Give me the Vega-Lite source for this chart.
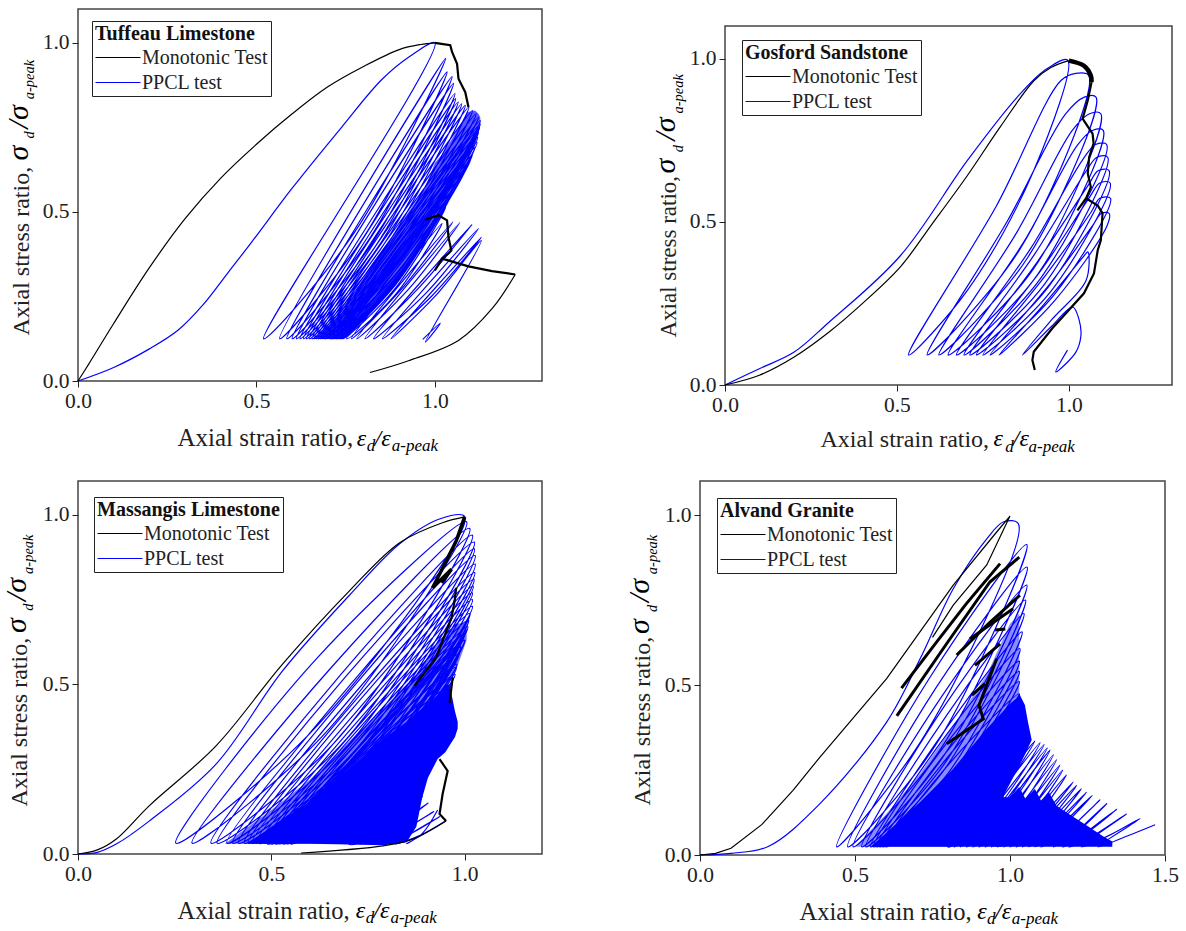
{"$schema":"https://vega.github.io/schema/vega-lite/v6.json","background":"white","padding":{"left":1,"top":8,"right":0,"bottom":0},"spacing":24,
"resolve":{"scale":{"color":"independent"},"legend":{"color":"independent"}},
"config":{"view":{"stroke":"#444","strokeWidth":1.5,"fill":"white"},
"axis":{"grid":false,"domain":false,"tickSize":6,"tickColor":"#222","labelFont":"Liberation Serif","labelFontSize":21.5,"labelColor":"#222","labelPadding":3,"labelFlush":false,"labelOverlap":false,"titleFont":"Liberation Serif","titleFontSize":24.5,"titleFontWeight":"normal","titleColor":"#222","titleAlign":"left","titleBaseline":"alphabetic","format":".1f"},
"axisY":{"titleAngle":270},
"legend":{"orient":"none","symbolType":"M-1,0H3.5","symbolSize":400,"symbolStrokeWidth":1,"strokeColor":"#222","fillColor":"white","padding":3,"titleFont":"Liberation Serif","titleFontSize":20,"titleFontWeight":"bold","titleColor":"#111","titlePadding":3,"titleLimit":400,"labelFont":"Liberation Serif","labelFontSize":20,"labelColor":"#222","labelLimit":300,"rowPadding":4,"labelOffset":26},
"style":{"eb":{"font":"Liberation Serif","fontStyle":"italic","fontSize":24,"align":"left","baseline":"alphabetic","fill":"#222"},"es":{"font":"Liberation Serif","fontStyle":"italic","fontSize":17,"align":"left","baseline":"alphabetic","fill":"#222"},"sb":{"font":"Liberation Serif","fontStyle":"italic","fontSize":30,"align":"left","baseline":"alphabetic","fill":"#222","angle":270},"ss":{"font":"Liberation Serif","fontStyle":"italic","fontSize":14.5,"align":"left","baseline":"alphabetic","fill":"#222","angle":270}}},
"datasets":{
"p1a":[{"x":0.66,"y":0.125,"z":0.125},{"x":0.739,"y":0.2,"z":0.125},{"x":0.757,"y":0.225,"z":0.13},{"x":0.82,"y":0.34,"z":0.2},{"x":0.879,"y":0.425,"z":0.278},{"x":0.926,"y":0.5,"z":0.35},{"x":0.972,"y":0.57,"z":0.425},{"x":1,"y":0.645,"z":0.47},{"x":1.02,"y":0.67,"z":0.505},{"x":1.056,"y":0.73,"z":0.573},{"x":1.09,"y":0.795,"z":0.647},{"x":1.112,"y":0.8,"z":0.7},{"x":1.122,"y":0.79,"z":0.732},{"x":1.127,"y":0.78,"z":0.76}],
"p1m":[{"x":0,"y":0,"k":1},{"x":0.03,"y":0.05,"k":1},{"x":0.1,"y":0.17,"k":1},{"x":0.2,"y":0.335,"k":1},{"x":0.3,"y":0.48,"k":1},{"x":0.4,"y":0.6,"k":1},{"x":0.5,"y":0.7,"k":1},{"x":0.6,"y":0.79,"k":1},{"x":0.7,"y":0.87,"k":1},{"x":0.8,"y":0.93,"k":1},{"x":0.9,"y":0.98,"k":1},{"x":0.96,"y":0.995,"k":1},{"x":1,"y":1,"k":1},{"x":1.225,"y":0.315,"k":2},{"x":1.16,"y":0.214,"k":2},{"x":1.066,"y":0.12,"k":2},{"x":0.926,"y":0.06,"k":2},{"x":0.818,"y":0.025,"k":2}],
"p1t":[{"x":1,"y":1,"k":1},{"x":1.043,"y":0.993,"k":1},{"x":1.048,"y":0.973,"k":1},{"x":1.062,"y":0.938,"k":1},{"x":1.066,"y":0.894,"k":1},{"x":1.085,"y":0.854,"k":1},{"x":1.094,"y":0.81,"k":1},{"x":0.972,"y":0.477,"k":2},{"x":1.01,"y":0.49,"k":2},{"x":1.034,"y":0.475,"k":2},{"x":1.038,"y":0.425,"k":2},{"x":1.046,"y":0.386,"k":2},{"x":1.038,"y":0.377,"k":2},{"x":1.02,"y":0.362,"k":2},{"x":1.0,"y":0.327,"k":2},{"x":1.02,"y":0.362,"k":2},{"x":1.094,"y":0.339,"k":2},{"x":1.16,"y":0.325,"k":2},{"x":1.225,"y":0.315,"k":2}],
"p1p":[{"x":0,"y":0},{"x":0.1,"y":0.04},{"x":0.2,"y":0.095},{"x":0.28,"y":0.15},{"x":0.35,"y":0.225},{"x":0.42,"y":0.32},{"x":0.486,"y":0.41},{"x":0.6,"y":0.57},{"x":0.739,"y":0.751},{"x":0.85,"y":0.89},{"x":0.93,"y":0.96},{"x":1,"y":1},{"x":0.52,"y":0.125},{"x":0.775,"y":0.44},{"x":1.03,"y":0.954},{"x":0.565,"y":0.125},{"x":0.8,"y":0.425},{"x":1.034,"y":0.914},{"x":0.585,"y":0.125},{"x":0.816,"y":0.42},{"x":1.048,"y":0.9},{"x":0.6,"y":0.125},{"x":0.826,"y":0.41},{"x":1.052,"y":0.88},{"x":0.612,"y":0.125},{"x":0.834,"y":0.4},{"x":1.056,"y":0.85},{"x":0.622,"y":0.125},{"x":0.84,"y":0.395},{"x":1.058,"y":0.835},{"x":0.632,"y":0.125},{"x":0.848,"y":0.39},{"x":1.065,"y":0.825},{"x":0.64,"y":0.125},{"x":0.858,"y":0.39},{"x":1.075,"y":0.82},{"x":0.648,"y":0.125},{"x":0.866,"y":0.385},{"x":1.085,"y":0.815},{"x":0.656,"y":0.125},{"x":0.875,"y":0.385},{"x":1.095,"y":0.81},{"x":0.662,"y":0.125},{"x":0.884,"y":0.38},{"x":1.105,"y":0.8},{"x":0.668,"y":0.125},{"x":0.892,"y":0.38},{"x":1.115,"y":0.79},{"x":0.674,"y":0.125},{"x":0.898,"y":0.378},{"x":1.122,"y":0.78},{"x":0.68,"y":0.125},{"x":0.904,"y":0.37},{"x":1.127,"y":0.77},{"x":0.685,"y":0.125},{"x":0.906,"y":0.37},{"x":1.127,"y":0.76},{"x":0.69,"y":0.125},{"x":0.908,"y":0.365},{"x":1.125,"y":0.75},{"x":0.695,"y":0.125},{"x":0.908,"y":0.36},{"x":1.122,"y":0.735},{"x":0.7,"y":0.125},{"x":0.91,"y":0.355},{"x":1.12,"y":0.72},{"x":0.705,"y":0.125},{"x":0.912,"y":0.345},{"x":1.118,"y":0.705},{"x":0.71,"y":0.125},{"x":0.911,"y":0.34},{"x":1.112,"y":0.69},{"x":0.714,"y":0.125},{"x":0.91,"y":0.33},{"x":1.105,"y":0.67},{"x":0.718,"y":0.125},{"x":0.909,"y":0.33},{"x":1.1,"y":0.655},{"x":0.722,"y":0.125},{"x":0.906,"y":0.32},{"x":1.09,"y":0.635},{"x":0.726,"y":0.125},{"x":0.903,"y":0.313},{"x":1.08,"y":0.62},{"x":0.73,"y":0.125},{"x":0.9,"y":0.305},{"x":1.07,"y":0.6},{"x":0.734,"y":0.125},{"x":0.895,"y":0.295},{"x":1.056,"y":0.573},{"x":0.738,"y":0.125},{"x":0.89,"y":0.285},{"x":1.045,"y":0.55},{"x":0.742,"y":0.125},{"x":0.886,"y":0.27},{"x":1.03,"y":0.514},{"x":0.753,"y":0.125},{"x":0.885,"y":0.25},{"x":1.02,"y":0.466},{"x":0.766,"y":0.125},{"x":0.905,"y":0.27},{"x":1.05,"y":0.47},{"x":0.781,"y":0.125},{"x":0.925,"y":0.27},{"x":1.07,"y":0.469},{"x":0.804,"y":0.125},{"x":0.95,"y":0.27},{"x":1.104,"y":0.463},{"x":0.828,"y":0.125},{"x":0.975,"y":0.26},{"x":1.122,"y":0.451},{"x":0.853,"y":0.125},{"x":0.99,"y":0.25},{"x":1.13,"y":0.425},{"x":0.877,"y":0.125},{"x":1.0,"y":0.25},{"x":1.13,"y":0.415},{"x":0.973,"y":0.115},{"x":1.015,"y":0.171},{"x":0.966,"y":0.123}],
"p2m":[{"x":0,"y":0},{"x":0.1,"y":0.03},{"x":0.2,"y":0.085},{"x":0.3,"y":0.16},{"x":0.4,"y":0.25},{"x":0.51,"y":0.362},{"x":0.6,"y":0.49},{"x":0.705,"y":0.642},{"x":0.8,"y":0.79},{"x":0.899,"y":0.933},{"x":0.948,"y":0.973},{"x":1,"y":0.994}],
"p2t":[{"x":1.066,"y":0.928,"k":1},{"x":1.055,"y":0.872,"k":1},{"x":1.04,"y":0.816,"k":1},{"x":1.05,"y":0.8,"k":1},{"x":1.069,"y":0.77,"k":1},{"x":1.072,"y":0.74,"k":1},{"x":1.059,"y":0.698,"k":1},{"x":1.055,"y":0.648,"k":1},{"x":1.064,"y":0.606,"k":1},{"x":1.05,"y":0.572,"k":1},{"x":1.025,"y":0.535,"k":1},{"x":1.05,"y":0.572,"k":1},{"x":1.084,"y":0.55,"k":1},{"x":1.098,"y":0.526,"k":1},{"x":1.093,"y":0.443,"k":1},{"x":1.084,"y":0.413,"k":1},{"x":1.073,"y":0.342,"k":1},{"x":1.044,"y":0.281,"k":1},{"x":0.952,"y":0.174,"k":1},{"x":0.898,"y":0.102,"k":1},{"x":0.894,"y":0.076,"k":1},{"x":0.901,"y":0.046,"k":1}],
"p2c":[{"x":1,"y":0.994},{"x":1.044,"y":0.978},{"x":1.064,"y":0.948},{"x":1.066,"y":0.928}],
"p2p":[{"x":0,"y":0},{"x":0.1,"y":0.05},{"x":0.2,"y":0.1},{"x":0.3,"y":0.19},{"x":0.51,"y":0.396},{"x":0.705,"y":0.688},{"x":0.85,"y":0.882},{"x":0.928,"y":0.963},{"x":0.996,"y":0.996},{"x":0.898,"y":0.657},{"x":0.705,"y":0.29},{"x":0.534,"y":0.092},{"x":0.79,"y":0.55},{"x":0.977,"y":0.933},{"x":1.02,"y":0.955},{"x":1.058,"y":0.948},{"x":0.86,"y":0.42},{"x":0.588,"y":0.092},{"x":0.82,"y":0.5},{"x":0.99,"y":0.83},{"x":1.045,"y":0.882},{"x":1.079,"y":0.882},{"x":0.88,"y":0.39},{"x":0.622,"y":0.092},{"x":0.85,"y":0.47},{"x":1.01,"y":0.78},{"x":1.06,"y":0.831},{"x":1.093,"y":0.831},{"x":0.9,"y":0.36},{"x":0.649,"y":0.092},{"x":0.87,"y":0.44},{"x":1.025,"y":0.735},{"x":1.068,"y":0.78},{"x":1.1,"y":0.78},{"x":0.91,"y":0.34},{"x":0.673,"y":0.092},{"x":0.89,"y":0.42},{"x":1.04,"y":0.69},{"x":1.078,"y":0.737},{"x":1.11,"y":0.737},{"x":0.92,"y":0.33},{"x":0.695,"y":0.092},{"x":0.9,"y":0.4},{"x":1.05,"y":0.655},{"x":1.082,"y":0.698},{"x":1.113,"y":0.698},{"x":0.93,"y":0.31},{"x":0.712,"y":0.092},{"x":0.91,"y":0.38},{"x":1.055,"y":0.61},{"x":1.086,"y":0.657},{"x":1.117,"y":0.657},{"x":0.94,"y":0.3},{"x":0.731,"y":0.092},{"x":0.925,"y":0.36},{"x":1.06,"y":0.575},{"x":1.09,"y":0.619},{"x":1.12,"y":0.619},{"x":0.95,"y":0.29},{"x":0.75,"y":0.092},{"x":0.935,"y":0.34},{"x":1.065,"y":0.53},{"x":1.09,"y":0.572},{"x":1.121,"y":0.572},{"x":0.96,"y":0.28},{"x":0.771,"y":0.092},{"x":0.945,"y":0.31},{"x":1.07,"y":0.49},{"x":1.095,"y":0.526},{"x":1.117,"y":0.526},{"x":1.112,"y":0.49},{"x":0.96,"y":0.26},{"x":0.797,"y":0.092},{"x":0.93,"y":0.25},{"x":1.04,"y":0.39},{"x":1.055,"y":0.408},{"x":1.05,"y":0.32},{"x":0.95,"y":0.2},{"x":0.865,"y":0.092},{"x":0.95,"y":0.18},{"x":1.011,"y":0.239},{"x":1.03,"y":0.199},{"x":1.035,"y":0.15},{"x":1.02,"y":0.1},{"x":0.962,"y":0.04},{"x":0.996,"y":0.107}],
"p3h":[{"x":0.38,"y":0.03,"z":0.03},{"x":0.5,"y":0.13,"z":0.03},{"x":0.6,"y":0.22,"z":0.03},{"x":0.7,"y":0.33,"z":0.03},{"x":0.79,"y":0.43,"z":0.03},{"x":0.875,"y":0.53,"z":0.4},{"x":0.93,"y":0.62,"z":0.45},{"x":0.98,"y":0.68,"z":0.55},{"x":1.005,"y":0.68,"z":0.63}],
"p3a":[{"x":0.44,"y":0.03,"z":0.03},{"x":0.5,"y":0.08,"z":0.03},{"x":0.6,"y":0.155,"z":0.03},{"x":0.7,"y":0.25,"z":0.028},{"x":0.79,"y":0.34,"z":0.026},{"x":0.85,"y":0.39,"z":0.035},{"x":0.875,"y":0.415,"z":0.08},{"x":0.89,"y":0.43,"z":0.165},{"x":0.905,"y":0.44,"z":0.225},{"x":0.93,"y":0.47,"z":0.28},{"x":0.95,"y":0.5,"z":0.3},{"x":0.961,"y":0.5,"z":0.32},{"x":0.975,"y":0.42,"z":0.345},{"x":0.982,"y":0.39,"z":0.37}],
"p3m":[{"x":0,"y":0,"k":1},{"x":0.05,"y":0.012,"k":1},{"x":0.1,"y":0.045,"k":1},{"x":0.184,"y":0.142,"k":1},{"x":0.357,"y":0.319,"k":1},{"x":0.529,"y":0.56,"k":1},{"x":0.702,"y":0.776,"k":1},{"x":0.832,"y":0.918,"k":1},{"x":0.943,"y":0.977,"k":1},{"x":1,"y":0.994,"k":1},{"x":0.952,"y":0.097,"k":2},{"x":0.866,"y":0.044,"k":2},{"x":0.788,"y":0.024,"k":2},{"x":0.577,"y":0.003,"k":2}],
"p3t":[{"x":0.978,"y":0.785,"k":1},{"x":0.974,"y":0.746,"k":1},{"x":0.966,"y":0.697,"k":1},{"x":0.926,"y":0.579,"k":1},{"x":0.87,"y":0.496,"k":1},{"x":0.969,"y":0.52,"k":2},{"x":0.961,"y":0.446,"k":2},{"x":0.935,"y":0.28,"k":3},{"x":0.956,"y":0.245,"k":3},{"x":0.943,"y":0.177,"k":3},{"x":0.935,"y":0.118,"k":3},{"x":0.952,"y":0.097,"k":3}],
"p3c":[{"x":1,"y":0.994},{"x":0.978,"y":0.923},{"x":0.955,"y":0.87},{"x":0.917,"y":0.785},{"x":0.966,"y":0.84},{"x":0.94,"y":0.8}],
"p3p":[{"x":0,"y":0},{"x":0.05,"y":0.005},{"x":0.1,"y":0.03},{"x":0.184,"y":0.097},{"x":0.357,"y":0.265},{"x":0.529,"y":0.54},{"x":0.702,"y":0.763},{"x":0.832,"y":0.915},{"x":0.935,"y":0.988},{"x":1,"y":0.995},{"x":0.62,"y":0.38},{"x":0.253,"y":0.032},{"x":0.62,"y":0.58},{"x":1.005,"y":0.98},{"x":0.65,"y":0.37},{"x":0.295,"y":0.032},{"x":0.655,"y":0.55},{"x":1.013,"y":0.96},{"x":0.68,"y":0.35},{"x":0.344,"y":0.032},{"x":0.68,"y":0.53},{"x":1.02,"y":0.94},{"x":0.695,"y":0.34},{"x":0.36,"y":0.032},{"x":0.69,"y":0.52},{"x":1.025,"y":0.92},{"x":0.705,"y":0.33},{"x":0.385,"y":0.032},{"x":0.705,"y":0.5},{"x":1.025,"y":0.9},{"x":0.715,"y":0.32},{"x":0.4,"y":0.032},{"x":0.71,"y":0.49},{"x":1.027,"y":0.88},{"x":0.72,"y":0.31},{"x":0.415,"y":0.032},{"x":0.72,"y":0.48},{"x":1.027,"y":0.855},{"x":0.725,"y":0.3},{"x":0.43,"y":0.032},{"x":0.73,"y":0.47},{"x":1.026,"y":0.83},{"x":0.73,"y":0.3},{"x":0.44,"y":0.032},{"x":0.73,"y":0.455},{"x":1.024,"y":0.81},{"x":0.735,"y":0.29},{"x":0.45,"y":0.032},{"x":0.735,"y":0.44},{"x":1.022,"y":0.79},{"x":0.735,"y":0.28},{"x":0.46,"y":0.032},{"x":0.74,"y":0.43},{"x":1.02,"y":0.77},{"x":0.74,"y":0.28},{"x":0.47,"y":0.032},{"x":0.745,"y":0.42},{"x":1.02,"y":0.75},{"x":0.745,"y":0.27},{"x":0.48,"y":0.032},{"x":0.75,"y":0.41},{"x":1.02,"y":0.73},{"x":0.75,"y":0.265},{"x":0.488,"y":0.032},{"x":0.75,"y":0.4},{"x":1.014,"y":0.71},{"x":0.75,"y":0.26},{"x":0.496,"y":0.032},{"x":0.755,"y":0.39},{"x":1.01,"y":0.69},{"x":0.755,"y":0.25},{"x":0.504,"y":0.032},{"x":0.755,"y":0.38},{"x":1.008,"y":0.67},{"x":0.755,"y":0.25},{"x":0.512,"y":0.032},{"x":0.755,"y":0.37},{"x":1,"y":0.65},{"x":0.755,"y":0.24},{"x":0.52,"y":0.032},{"x":0.76,"y":0.36},{"x":1,"y":0.63},{"x":0.76,"y":0.235},{"x":0.528,"y":0.032},{"x":0.755,"y":0.35},{"x":0.99,"y":0.61},{"x":0.755,"y":0.23},{"x":0.536,"y":0.032},{"x":0.755,"y":0.34},{"x":0.985,"y":0.59},{"x":0.76,"y":0.225},{"x":0.544,"y":0.032},{"x":0.76,"y":0.33},{"x":0.978,"y":0.55},{"x":0.76,"y":0.21},{"x":0.552,"y":0.032},{"x":0.76,"y":0.31},{"x":0.97,"y":0.52},{"x":0.76,"y":0.2},{"x":0.56,"y":0.032}],
"p3d":[{"x":0.47,"y":0.03},{"x":0.72,"y":0.18},{"x":0.965,"y":0.5},{"x":0.49,"y":0.03},{"x":0.735,"y":0.19},{"x":0.975,"y":0.53},{"x":0.5,"y":0.03},{"x":0.74,"y":0.2},{"x":0.98,"y":0.56},{"x":0.51,"y":0.03},{"x":0.75,"y":0.21},{"x":0.985,"y":0.59},{"x":0.52,"y":0.03},{"x":0.755,"y":0.22},{"x":0.99,"y":0.61},{"x":0.53,"y":0.03},{"x":0.765,"y":0.22},{"x":1,"y":0.63},{"x":0.54,"y":0.03},{"x":0.77,"y":0.23},{"x":1,"y":0.65},{"x":0.55,"y":0.03},{"x":0.78,"y":0.23},{"x":1.005,"y":0.66},{"x":0.7,"y":0.03},{"x":0.8,"y":0.08},{"x":0.891,"y":0.17},{"x":0.73,"y":0.03},{"x":0.82,"y":0.08},{"x":0.905,"y":0.15},{"x":0.76,"y":0.03},{"x":0.84,"y":0.07},{"x":0.92,"y":0.125},{"x":0.79,"y":0.03},{"x":0.86,"y":0.06},{"x":0.935,"y":0.11},{"x":0.82,"y":0.03},{"x":0.885,"y":0.055},{"x":0.95,"y":0.097},{"x":0.85,"y":0.03},{"x":0.89,"y":0.06},{"x":0.93,"y":0.13}],
"p4h":[{"x":0.5,"y":0.024,"z":0.024},{"x":0.6,"y":0.12,"z":0.024},{"x":0.71,"y":0.24,"z":0.024},{"x":0.817,"y":0.38,"z":0.024},{"x":0.925,"y":0.53,"z":0.35},{"x":1,"y":0.68,"z":0.4},{"x":1.03,"y":0.71,"z":0.47}],
"p4a":[{"x":0.55,"y":0.024,"z":0.024,"k":1},{"x":0.62,"y":0.08,"z":0.024,"k":1},{"x":0.71,"y":0.156,"z":0.024,"k":1},{"x":0.817,"y":0.254,"z":0.024,"k":1},{"x":0.925,"y":0.371,"z":0.024,"k":1},{"x":0.975,"y":0.42,"z":0.024,"k":1},{"x":0.98,"y":0.425,"z":0.176,"k":1},{"x":1,"y":0.445,"z":0.21,"k":1},{"x":1.02,"y":0.46,"z":0.245,"k":1},{"x":1.03,"y":0.474,"z":0.262,"k":1},{"x":1.048,"y":0.441,"z":0.295,"k":1},{"x":1.058,"y":0.391,"z":0.315,"k":1},{"x":1.07,"y":0.338,"z":0.338,"k":1},{"x":0.95,"y":0.17,"z":0.024,"k":2},{"x":1.0,"y":0.17,"z":0.024,"k":2},{"x":1.03,"y":0.2,"z":0.024,"k":2},{"x":1.05,"y":0.165,"z":0.024,"k":2},{"x":1.08,"y":0.195,"z":0.024,"k":2},{"x":1.1,"y":0.16,"z":0.024,"k":2},{"x":1.125,"y":0.185,"z":0.024,"k":2},{"x":1.15,"y":0.145,"z":0.024,"k":2},{"x":1.2,"y":0.115,"z":0.024,"k":2},{"x":1.25,"y":0.085,"z":0.024,"k":2},{"x":1.3,"y":0.055,"z":0.024,"k":2},{"x":1.33,"y":0.04,"z":0.024,"k":2}],
"p4m":[{"x":0,"y":0},{"x":0.05,"y":0.005},{"x":0.1,"y":0.02},{"x":0.2,"y":0.09},{"x":0.3,"y":0.19},{"x":0.387,"y":0.288},{"x":0.602,"y":0.519},{"x":0.817,"y":0.794},{"x":0.957,"y":0.95},{"x":1,"y":0.997},{"x":0.925,"y":0.853},{"x":0.817,"y":0.735},{"x":0.75,"y":0.64}],
"p4t":[{"x":0.65,"y":0.491,"k":1},{"x":0.763,"y":0.626,"k":1},{"x":0.86,"y":0.74,"k":1},{"x":0.968,"y":0.857,"k":1},{"x":0.635,"y":0.409,"k":2},{"x":0.796,"y":0.622,"k":2},{"x":0.935,"y":0.803,"k":2},{"x":1.03,"y":0.876,"k":2},{"x":0.828,"y":0.588,"k":3},{"x":0.93,"y":0.68,"k":3},{"x":1.032,"y":0.764,"k":3},{"x":0.871,"y":0.636,"k":4},{"x":1.01,"y":0.724,"k":4},{"x":0.887,"y":0.558,"k":5},{"x":0.968,"y":0.621,"k":5},{"x":0.877,"y":0.47,"k":6},{"x":0.919,"y":0.504,"k":6},{"x":0.952,"y":0.662,"k":7},{"x":0.985,"y":0.665,"k":7},{"x":0.796,"y":0.327,"k":8},{"x":0.914,"y":0.4,"k":8},{"x":0.9,"y":0.44,"k":8},{"x":0.957,"y":0.577,"k":8}],
"p4p":[{"x":0,"y":0},{"x":0.1,"y":0.005},{"x":0.22,"y":0.025},{"x":0.387,"y":0.151},{"x":0.602,"y":0.391},{"x":0.71,"y":0.577},{"x":0.817,"y":0.783},{"x":0.925,"y":0.93},{"x":0.98,"y":0.98},{"x":1.027,"y":0.974},{"x":0.73,"y":0.36},{"x":0.441,"y":0.024},{"x":0.74,"y":0.52},{"x":1.054,"y":0.913},{"x":0.765,"y":0.33},{"x":0.477,"y":0.024},{"x":0.76,"y":0.49},{"x":1.055,"y":0.847},{"x":0.775,"y":0.31},{"x":0.494,"y":0.024},{"x":0.775,"y":0.46},{"x":1.054,"y":0.794},{"x":0.785,"y":0.29},{"x":0.522,"y":0.024},{"x":0.79,"y":0.44},{"x":1.05,"y":0.75},{"x":0.79,"y":0.27},{"x":0.535,"y":0.024},{"x":0.795,"y":0.41},{"x":1.045,"y":0.71},{"x":0.795,"y":0.26},{"x":0.55,"y":0.024},{"x":0.8,"y":0.38},{"x":1.039,"y":0.656},{"x":0.8,"y":0.24},{"x":0.56,"y":0.024},{"x":0.8,"y":0.36},{"x":1.032,"y":0.607},{"x":0.8,"y":0.22},{"x":0.57,"y":0.024},{"x":0.805,"y":0.34},{"x":1.03,"y":0.57},{"x":0.805,"y":0.21},{"x":0.58,"y":0.024},{"x":0.81,"y":0.32},{"x":1.03,"y":0.54},{"x":0.81,"y":0.2},{"x":0.59,"y":0.024},{"x":0.81,"y":0.3},{"x":1.03,"y":0.51},{"x":0.81,"y":0.19},{"x":0.6,"y":0.024},{"x":0.815,"y":0.28},{"x":1.03,"y":0.474},{"x":0.815,"y":0.18},{"x":0.8,"y":0.024},{"x":0.94,"y":0.145},{"x":1.08,"y":0.335},{"x":0.82,"y":0.024},{"x":0.96,"y":0.14},{"x":1.097,"y":0.33},{"x":0.84,"y":0.024},{"x":0.975,"y":0.14},{"x":1.11,"y":0.325},{"x":0.86,"y":0.024},{"x":0.99,"y":0.135},{"x":1.12,"y":0.315},{"x":0.88,"y":0.024},{"x":1.005,"y":0.13},{"x":1.129,"y":0.309},{"x":0.9,"y":0.024},{"x":1.02,"y":0.125},{"x":1.14,"y":0.295},{"x":0.92,"y":0.024},{"x":1.035,"y":0.12},{"x":1.15,"y":0.28},{"x":0.94,"y":0.024},{"x":1.05,"y":0.115},{"x":1.161,"y":0.265},{"x":0.96,"y":0.024},{"x":1.065,"y":0.11},{"x":1.17,"y":0.25},{"x":0.98,"y":0.024},{"x":1.08,"y":0.105},{"x":1.182,"y":0.235},{"x":1,"y":0.024},{"x":1.1,"y":0.1},{"x":1.204,"y":0.215},{"x":1.02,"y":0.024},{"x":1.118,"y":0.095},{"x":1.215,"y":0.205},{"x":1.04,"y":0.024},{"x":1.135,"y":0.09},{"x":1.23,"y":0.195},{"x":1.06,"y":0.024},{"x":1.153,"y":0.09},{"x":1.247,"y":0.185},{"x":1.08,"y":0.024},{"x":1.17,"y":0.085},{"x":1.265,"y":0.175},{"x":1.1,"y":0.024},{"x":1.195,"y":0.08},{"x":1.29,"y":0.162},{"x":1.14,"y":0.024},{"x":1.225,"y":0.075},{"x":1.312,"y":0.151},{"x":1.17,"y":0.024},{"x":1.255,"y":0.07},{"x":1.345,"y":0.135},{"x":1.19,"y":0.024},{"x":1.283,"y":0.065},{"x":1.376,"y":0.121},{"x":1.23,"y":0.024},{"x":1.325,"y":0.06},{"x":1.42,"y":0.107},{"x":1.284,"y":0.024},{"x":1.376,"y":0.055},{"x":1.468,"y":0.089}]
},
"vconcat":[
{"spacing":107,"resolve":{"scale":{"color":"independent"},"legend":{"color":"independent"}},"hconcat":[
{"width":464,"height":372,"encoding":{"x":{"field":"x","type":"quantitative","scale":{"domain":[0,1.3],"nice":false},"axis":{"values":[0,0.5,1],"title":"Axial strain ratio,","titleX":99,"titleY":64,"titleFontSize":25}},"y":{"field":"y","type":"quantitative","scale":{"domain":[0,1.1],"nice":false},"axis":{"values":[0,0.5,1],"title":"Axial stress ratio,","titleX":-50,"titleY":326,"titleFontSize":24}}},
"layer":[
{"data":{"name":"p1a"},"mark":{"type":"area","opacity":0.65,"color":"#0000ff"},"encoding":{"y2":{"field":"z"}}},
{"data":{"name":"p1p"},"mark":{"type":"line","strokeWidth":1.2,"interpolate":"catmull-rom"},"encoding":{"order":{"value":null},"color":{"datum":"PPCL test","scale":{"domain":["Monotonic Test","PPCL test"],"range":["#000000","#0000ff"]},"legend":{"title":"Tuffeau Limestone","legendX":14,"legendY":12}}}},
{"data":{"name":"p1m"},"mark":{"type":"line","strokeWidth":1.2,"interpolate":"catmull-rom"},"encoding":{"order":{"value":null},"detail":{"field":"k"},"color":{"datum":"Monotonic Test"}}},
{"data":{"name":"p1t"},"mark":{"type":"line","strokeWidth":2.2},"encoding":{"order":{"value":null},"detail":{"field":"k"},"color":{"datum":"Monotonic Test"}}},
{"data":{"values":[{"x":0.781,"y":-0.191,"t":"ε"},{"x":0.831,"y":-0.191,"t":"/ε"}]},"mark":{"type":"text","style":"eb"},"encoding":{"text":{"field":"t"}}},
{"data":{"values":[{"x":0.809,"y":-0.206,"t":"d"},{"x":0.879,"y":-0.206,"t":"a-peak"}]},"mark":{"type":"text","style":"es"},"encoding":{"text":{"field":"t"}}},
{"data":{"values":[{"x":-0.14,"y":0.652,"t":"σ"},{"x":-0.14,"y":0.747,"t":"/σ"}]},"mark":{"type":"text","style":"sb"},"encoding":{"text":{"field":"t"}}},
{"data":{"values":[{"x":-0.124,"y":0.717,"t":"d"},{"x":-0.124,"y":0.833,"t":"a-peak"}]},"mark":{"type":"text","style":"ss"},"encoding":{"text":{"field":"t"}}}
]},
{"spacing":15,"resolve":{"scale":{"color":"independent"},"legend":{"color":"independent"}},"vconcat":[
{"data":{"values":[]},"mark":"point","width":1,"height":1,"view":{"stroke":null,"fill":null},"encoding":{}},
{"width":447,"height":359,"encoding":{"x":{"field":"x","type":"quantitative","scale":{"domain":[0,1.3],"nice":false},"axis":{"values":[0,0.5,1],"title":"Axial strain ratio,","titleX":95,"titleY":61,"titleFontSize":24}},"y":{"field":"y","type":"quantitative","scale":{"domain":[0,1.1],"nice":false},"axis":{"values":[0,0.5,1],"title":"Axial stress ratio,","titleX":-50,"titleY":311,"titleFontSize":23}}},
"layer":[
{"data":{"name":"p2p"},"mark":{"type":"line","strokeWidth":1.2,"interpolate":"catmull-rom"},"encoding":{"order":{"value":null},"color":{"datum":"PPCL test","scale":{"domain":["Monotonic Test","PPCL test"],"range":["#000000","#0000ff"]},"legend":{"title":"Gosford Sandstone","legendX":17,"legendY":14}}}},
{"data":{"name":"p2m"},"mark":{"type":"line","strokeWidth":1.2,"interpolate":"catmull-rom"},"encoding":{"order":{"value":null},"color":{"datum":"Monotonic Test"}}},
{"data":{"name":"p2t"},"mark":{"type":"line","strokeWidth":2.2},"encoding":{"order":{"value":null},"detail":{"field":"k"},"color":{"datum":"Monotonic Test"}}},
{"data":{"name":"p2c"},"mark":{"type":"line","strokeWidth":4.5,"interpolate":"catmull-rom"},"encoding":{"order":{"value":null},"color":{"datum":"Monotonic Test"}}},
{"data":{"values":[{"x":0.781,"y":-0.187,"t":"ε"},{"x":0.837,"y":-0.187,"t":"/ε"}]},"mark":{"type":"text","style":"eb"},"encoding":{"text":{"field":"t"}}},
{"data":{"values":[{"x":0.815,"y":-0.205,"t":"d"},{"x":0.883,"y":-0.205,"t":"a-peak"}]},"mark":{"type":"text","style":"es"},"encoding":{"text":{"field":"t"}}},
{"data":{"values":[{"x":-0.146,"y":0.648,"t":"σ"},{"x":-0.146,"y":0.749,"t":"/σ"}]},"mark":{"type":"text","style":"sb"},"encoding":{"text":{"field":"t"}}},
{"data":{"values":[{"x":-0.122,"y":0.713,"t":"d"},{"x":-0.122,"y":0.832,"t":"a-peak"}]},"mark":{"type":"text","style":"ss"},"encoding":{"text":{"field":"t"}}}
]}
]}
]},
{"spacing":81,"resolve":{"scale":{"color":"independent"},"legend":{"color":"independent"}},"hconcat":[
{"width":464,"height":373,"encoding":{"x":{"field":"x","type":"quantitative","scale":{"domain":[0,1.2],"nice":false},"axis":{"values":[0,0.5,1],"title":"Axial strain ratio,","titleX":99,"titleY":64}},"y":{"field":"y","type":"quantitative","scale":{"domain":[0,1.1],"nice":false},"axis":{"values":[0,0.5,1],"title":"Axial stress ratio,","titleX":-52,"titleY":325,"titleFontSize":24}}},
"layer":[
{"data":{"name":"p3h"},"mark":{"type":"area","opacity":0.55,"color":"#0000ff"},"encoding":{"y2":{"field":"z"}}},
{"data":{"name":"p3a"},"mark":{"type":"area","color":"#0000ff"},"encoding":{"y2":{"field":"z"}}},
{"data":{"name":"p3p"},"mark":{"type":"line","strokeWidth":1.2,"interpolate":"catmull-rom"},"encoding":{"order":{"value":null},"color":{"datum":"PPCL test","scale":{"domain":["Monotonic Test","PPCL test"],"range":["#000000","#0000ff"]},"legend":{"title":"Massangis Limestone","legendX":16,"legendY":16}}}},
{"data":{"name":"p3d"},"mark":{"type":"line","strokeWidth":1.2,"interpolate":"catmull-rom"},"encoding":{"order":{"value":null},"color":{"datum":"PPCL test"}}},
{"data":{"name":"p3m"},"mark":{"type":"line","strokeWidth":1.2,"interpolate":"catmull-rom"},"encoding":{"order":{"value":null},"detail":{"field":"k"},"color":{"datum":"Monotonic Test"}}},
{"data":{"name":"p3t"},"mark":{"type":"line","strokeWidth":2.2},"encoding":{"order":{"value":null},"detail":{"field":"k"},"color":{"datum":"Monotonic Test"}}},
{"data":{"name":"p3c"},"mark":{"type":"line","strokeWidth":3.5},"encoding":{"order":{"value":null},"color":{"datum":"Monotonic Test"}}},
{"data":{"values":[{"x":0.718,"y":-0.189,"t":"ε"},{"x":0.764,"y":-0.189,"t":"/ε"}]},"mark":{"type":"text","style":"eb"},"encoding":{"text":{"field":"t"}}},
{"data":{"values":[{"x":0.744,"y":-0.204,"t":"d"},{"x":0.808,"y":-0.204,"t":"a-peak"}]},"mark":{"type":"text","style":"es"},"encoding":{"text":{"field":"t"}}},
{"data":{"values":[{"x":-0.135,"y":0.652,"t":"σ"},{"x":-0.135,"y":0.746,"t":"/σ"}]},"mark":{"type":"text","style":"sb"},"encoding":{"text":{"field":"t"}}},
{"data":{"values":[{"x":-0.117,"y":0.717,"t":"d"},{"x":-0.117,"y":0.826,"t":"a-peak"}]},"mark":{"type":"text","style":"ss"},"encoding":{"text":{"field":"t"}}}
]},
{"width":465,"height":374,"encoding":{"x":{"field":"x","type":"quantitative","scale":{"domain":[0,1.5],"nice":false},"axis":{"values":[0,0.5,1,1.5],"title":"Axial strain ratio,","titleX":99,"titleY":64}},"y":{"field":"y","type":"quantitative","scale":{"domain":[0,1.1],"nice":false},"axis":{"values":[0,0.5,1],"title":"Axial stress ratio,","titleX":-51,"titleY":324,"titleFontSize":24}}},
"layer":[
{"data":{"name":"p4h"},"mark":{"type":"area","opacity":0.45,"color":"#0000ff"},"encoding":{"y2":{"field":"z"}}},
{"data":{"name":"p4a"},"mark":{"type":"area","color":"#0000ff"},"encoding":{"y2":{"field":"z"},"detail":{"field":"k"}}},
{"data":{"name":"p4p"},"mark":{"type":"line","strokeWidth":1.2,"interpolate":"catmull-rom"},"encoding":{"order":{"value":null},"color":{"datum":"PPCL test","scale":{"domain":["Monotonic Test","PPCL test"],"range":["#000000","#0000ff"]},"legend":{"title":"Alvand Granite","legendX":17,"legendY":17}}}},
{"data":{"name":"p4m"},"mark":{"type":"line","strokeWidth":1.2},"encoding":{"order":{"value":null},"color":{"datum":"Monotonic Test"}}},
{"data":{"name":"p4t"},"mark":{"type":"line","strokeWidth":3},"encoding":{"order":{"value":null},"detail":{"field":"k"},"color":{"datum":"Monotonic Test"}}},
{"data":{"values":[{"x":0.894,"y":-0.188,"t":"ε"},{"x":0.952,"y":-0.188,"t":"/ε"}]},"mark":{"type":"text","style":"eb"},"encoding":{"text":{"field":"t"}}},
{"data":{"values":[{"x":0.926,"y":-0.203,"t":"d"},{"x":1.006,"y":-0.203,"t":"a-peak"}]},"mark":{"type":"text","style":"es"},"encoding":{"text":{"field":"t"}}},
{"data":{"values":[{"x":-0.165,"y":0.65,"t":"σ"},{"x":-0.165,"y":0.744,"t":"/σ"}]},"mark":{"type":"text","style":"sb"},"encoding":{"text":{"field":"t"}}},
{"data":{"values":[{"x":-0.139,"y":0.715,"t":"d"},{"x":-0.139,"y":0.826,"t":"a-peak"}]},"mark":{"type":"text","style":"ss"},"encoding":{"text":{"field":"t"}}}
]}
]}
]}
